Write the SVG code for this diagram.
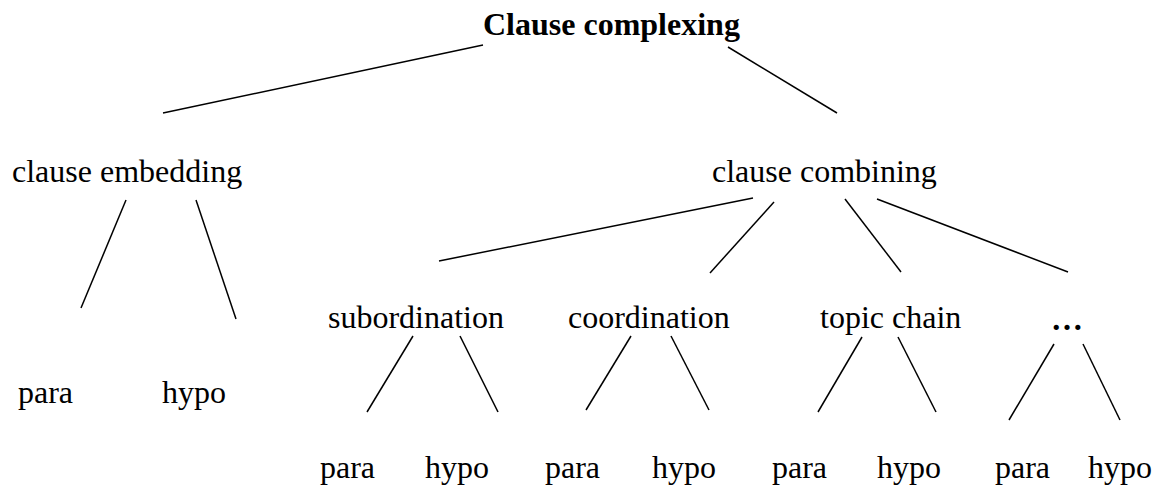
<svg xmlns="http://www.w3.org/2000/svg" width="1167" height="485" viewBox="0 0 1167 485">
<style>
text{font-family:"Liberation Serif","Times New Roman",serif;font-size:32px;fill:#000}
.b{font-weight:bold}
line{stroke:#000;stroke-width:1.5;stroke-linecap:butt}
</style>
<rect width="1167" height="485" fill="#fff"/>
<g id="connectors">
<line x1="483" y1="45" x2="163" y2="113"/>
<line x1="728" y1="47" x2="837" y2="113"/>
<line x1="126" y1="200" x2="81" y2="308"/>
<line x1="196" y1="200" x2="236" y2="319"/>
<line x1="753" y1="198" x2="439" y2="261"/>
<line x1="774" y1="202" x2="710" y2="273"/>
<line x1="845" y1="199" x2="901" y2="272"/>
<line x1="877" y1="199" x2="1068" y2="272"/>
<line x1="413" y1="336" x2="367" y2="412"/>
<line x1="460" y1="336" x2="498" y2="412"/>
<line x1="631" y1="336" x2="586" y2="410"/>
<line x1="671" y1="336" x2="709" y2="410"/>
<line x1="862" y1="337" x2="818" y2="412"/>
<line x1="898" y1="337" x2="936" y2="412"/>
<line x1="1054" y1="344" x2="1009" y2="420"/>
<line x1="1083" y1="344" x2="1120" y2="420"/>
</g>
<g id="root"><text class="b" x="483" y="35">Clause complexing</text></g>
<g id="embedding"><text x="12" y="182">clause embedding</text></g>
<g id="combining"><text x="712" y="182">clause combining</text></g>
<g id="emb-para"><text x="18" y="403">para</text></g>
<g id="emb-hypo"><text x="162" y="403">hypo</text></g>
<g id="subordination"><text x="328" y="328">subordination</text></g>
<g id="coordination"><text x="568" y="328">coordination</text></g>
<g id="topic-chain"><text x="820" y="328">topic chain</text></g>
<g id="etc"><text class="b" x="1051" y="330">…</text></g>
<g id="sub-para"><text x="320" y="478">para</text></g>
<g id="sub-hypo"><text x="425" y="478">hypo</text></g>
<g id="coo-para"><text x="545" y="478">para</text></g>
<g id="coo-hypo"><text x="652" y="478">hypo</text></g>
<g id="top-para"><text x="772" y="478">para</text></g>
<g id="top-hypo"><text x="877" y="478">hypo</text></g>
<g id="etc-para"><text x="995" y="478">para</text></g>
<g id="etc-hypo"><text x="1088" y="478">hypo</text></g>
</svg>
